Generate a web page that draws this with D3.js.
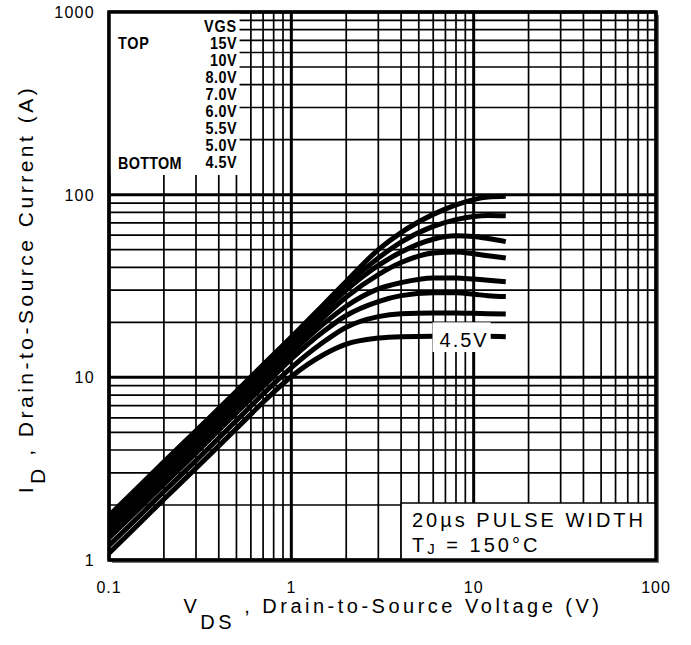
<!DOCTYPE html>
<html><head><meta charset="utf-8">
<script src="https://cdn.jsdelivr.net/npm/d3@7"></script>
<style>body{margin:0;background:#fff}</style>
</head><body><svg id="c" width="691" height="645"></svg>
<script>
// ---- data ----
const vds = [0.1, 0.15, 0.2, 0.3, 0.5, 0.7, 1, 1.5, 2, 3, 4, 6, 8, 10, 12, 15];
const vgsLabels = ["15V", "10V", "8.0V", "7.0V", "6.0V", "5.5V", "5.0V", "4.5V"];
const id15V = [1.75, 2.6, 3.45, 5.1, 8.4, 11.7, 16.6, 25, 33.5, 50, 62, 78, 88, 94, 97, 98];
const id10V = [1.68, 2.5, 3.3, 4.9, 8.1, 11.3, 16.0, 24, 32, 45, 55, 67, 73, 76, 77, 76.6];
const id8V  = [1.6, 2.38, 3.15, 4.7, 7.8, 10.8, 15.3, 22.8, 30, 41, 48.5, 57, 59.5, 59, 57.5, 55.3];
const id7V  = [1.5, 2.24, 2.96, 4.4, 7.3, 10.2, 14.5, 21.3, 27.5, 36.5, 42.5, 48, 48.5, 47.5, 46.3, 45];
const id6V  = [1.42, 2.1, 2.8, 4.15, 6.9, 9.6, 13.6, 19.6, 24.5, 30.5, 33, 35, 35, 34.5, 34, 33.4];
const id55V = [1.32, 1.96, 2.6, 3.86, 6.4, 8.9, 12.6, 17.8, 21.8, 26, 28, 29, 29, 28.5, 28, 27.7];
const id5V  = [1.2, 1.78, 2.37, 3.5, 5.8, 8.1, 11.3, 15.6, 18.8, 21.5, 22.3, 22.5, 22.5, 22.4, 22.3, 22.2];
const id45V = [1.09, 1.62, 2.15, 3.18, 5.25, 7.3, 10.1, 13.3, 15.2, 16.4, 16.7, 16.8, 16.8, 16.8, 16.8, 16.7];
const series = [id15V, id10V, id8V, id7V, id6V, id55V, id5V, id45V];
const xTickLabels = [0.1, 1, 10, 100];
const yTickLabels = [1, 10, 100, 1000];

// ---- layout ----
const svg = d3.select("#c");
const L = 109, R = 656, T = 12, B = 560;
const x = d3.scaleLog().domain([0.1, 100]).range([L, R]);
const y = d3.scaleLog().domain([1, 1000]).range([B, T]);
const font = "'Liberation Sans', Arial, Helvetica, sans-serif";

svg.append("rect").attr("width", 691).attr("height", 645).attr("fill", "#fff");
svg.append("defs").append("clipPath").attr("id", "clip")
  .append("rect").attr("x", L).attr("y", T).attr("width", R - L).attr("height", B - T);

// grid
const g = svg.append("g");
x.ticks().forEach(v => {
  const major = xTickLabels.some(t => Math.abs(t - v) / t < 1e-6);
  g.append("line").attr("x1", x(v)).attr("x2", x(v)).attr("y1", T).attr("y2", B)
    .attr("stroke", "#000").attr("stroke-width", major ? 3 : 1.7);
});
y.ticks().forEach(v => {
  const major = yTickLabels.some(t => Math.abs(t - v) / t < 1e-6);
  g.append("line").attr("y1", y(v)).attr("y2", y(v)).attr("x1", L).attr("x2", R)
    .attr("stroke", "#000").attr("stroke-width", major ? 3 : 1.7);
});

// legend box (top-left)
svg.append("rect").attr("x", L).attr("y", T).attr("width", x(0.52) - L).attr("height", 175 - T).attr("fill", "#fff");

// pulse box (bottom-right)
svg.append("rect").attr("x", x(4)).attr("y", 503).attr("width", R - x(4)).attr("height", B - 503)
  .attr("fill", "#fff").attr("stroke", "#000").attr("stroke-width", 1.5);

// curves
const line = d3.line().x((d, i) => x(vds[i])).y(d => y(d)).curve(d3.curveMonotoneX);
const cg = svg.append("g").attr("clip-path", "url(#clip)");
series.forEach(s => {
  cg.append("path").datum(s).attr("d", line).attr("fill", "none")
    .attr("stroke", "#000").attr("stroke-width", 5).attr("stroke-linejoin", "round");
});

// 4.5V label
const lastI = id45V[id45V.length - 1];
svg.append("rect").attr("x", x(5.95)).attr("y", y(20)).attr("width", x(12.4) - x(5.95)).attr("height", 352 - y(20))
  .attr("fill", "#fff");
svg.append("text").attr("x", x(6.5)).attr("y", y(lastI) + 10).attr("font-family", font)
  .attr("font-size", 20).attr("letter-spacing", 2).text("4.5V");

// frame with shadow
svg.append("path").attr("d", `M${R + 2},${T + 3}V${B + 2}H${L + 3}`).attr("fill", "none")
  .attr("stroke", "#777").attr("stroke-width", 2);
svg.append("rect").attr("x", L).attr("y", T).attr("width", R - L).attr("height", B - T)
  .attr("fill", "none").attr("stroke", "#000").attr("stroke-width", 3.5);

// axis tick labels
xTickLabels.forEach(v => {
  svg.append("text").attr("x", x(v)).attr("y", 593).attr("text-anchor", "middle")
    .attr("font-family", font).attr("font-size", 16).attr("letter-spacing", 1).text(v);
});
yTickLabels.forEach(v => {
  svg.append("text").attr("x", 95).attr("y", y(v) + 6).attr("text-anchor", "end")
    .attr("font-family", font).attr("font-size", 16).attr("letter-spacing", 1.3).text(v);
});

// legend text (condensed bold)
const sx = 0.9;
const lg = svg.append("g").attr("transform", `scale(${sx},1)`).attr("font-family", font)
  .attr("font-weight", "bold").attr("font-size", 16);
lg.append("text").attr("x", 237 / sx).attr("y", 32).attr("text-anchor", "end").attr("letter-spacing", 1).text("VGS");
lg.append("text").attr("x", 118 / sx).attr("y", 49).attr("letter-spacing", 0.8).text("TOP");
lg.append("text").attr("x", 118 / sx).attr("y", 169).attr("letter-spacing", 0.3).text("BOTTOM");
vgsLabels.forEach((t, i) => {
  lg.append("text").attr("x", 237 / sx).attr("y", 49 + i * 17).attr("text-anchor", "end").attr("letter-spacing", 0.5).text(t);
});

// pulse text
const pt = svg.append("g").attr("font-family", font).attr("font-size", 20).attr("letter-spacing", 3);
pt.append("text").attr("x", 412).attr("y", 527).text("20µs PULSE WIDTH");
const t2 = pt.append("text").attr("x", 412).attr("y", 552);
t2.append("tspan").text("T");
t2.append("tspan").attr("font-size", 15).attr("dy", 2).text("J");
t2.append("tspan").attr("dy", -2).text(" = 150°C");

// x title
const xt = svg.append("text").attr("x", 393).attr("y", 613).attr("text-anchor", "middle")
  .attr("font-family", font).attr("font-size", 20).attr("letter-spacing", 3.5);
xt.append("tspan").text("V");
xt.append("tspan").attr("dy", 16).text("DS");
xt.append("tspan").attr("dy", -16).text(" , Drain-to-Source Voltage (V)");

// y title
const yt = svg.append("text").attr("transform", "translate(33,289) rotate(-90)").attr("text-anchor", "middle")
  .attr("font-family", font).attr("font-size", 21).attr("letter-spacing", 3.5);
yt.append("tspan").text("I");
yt.append("tspan").attr("dy", 12).text("D");
yt.append("tspan").attr("dy", -12).text(" , Drain-to-Source Current (A)");
</script></body></html>
